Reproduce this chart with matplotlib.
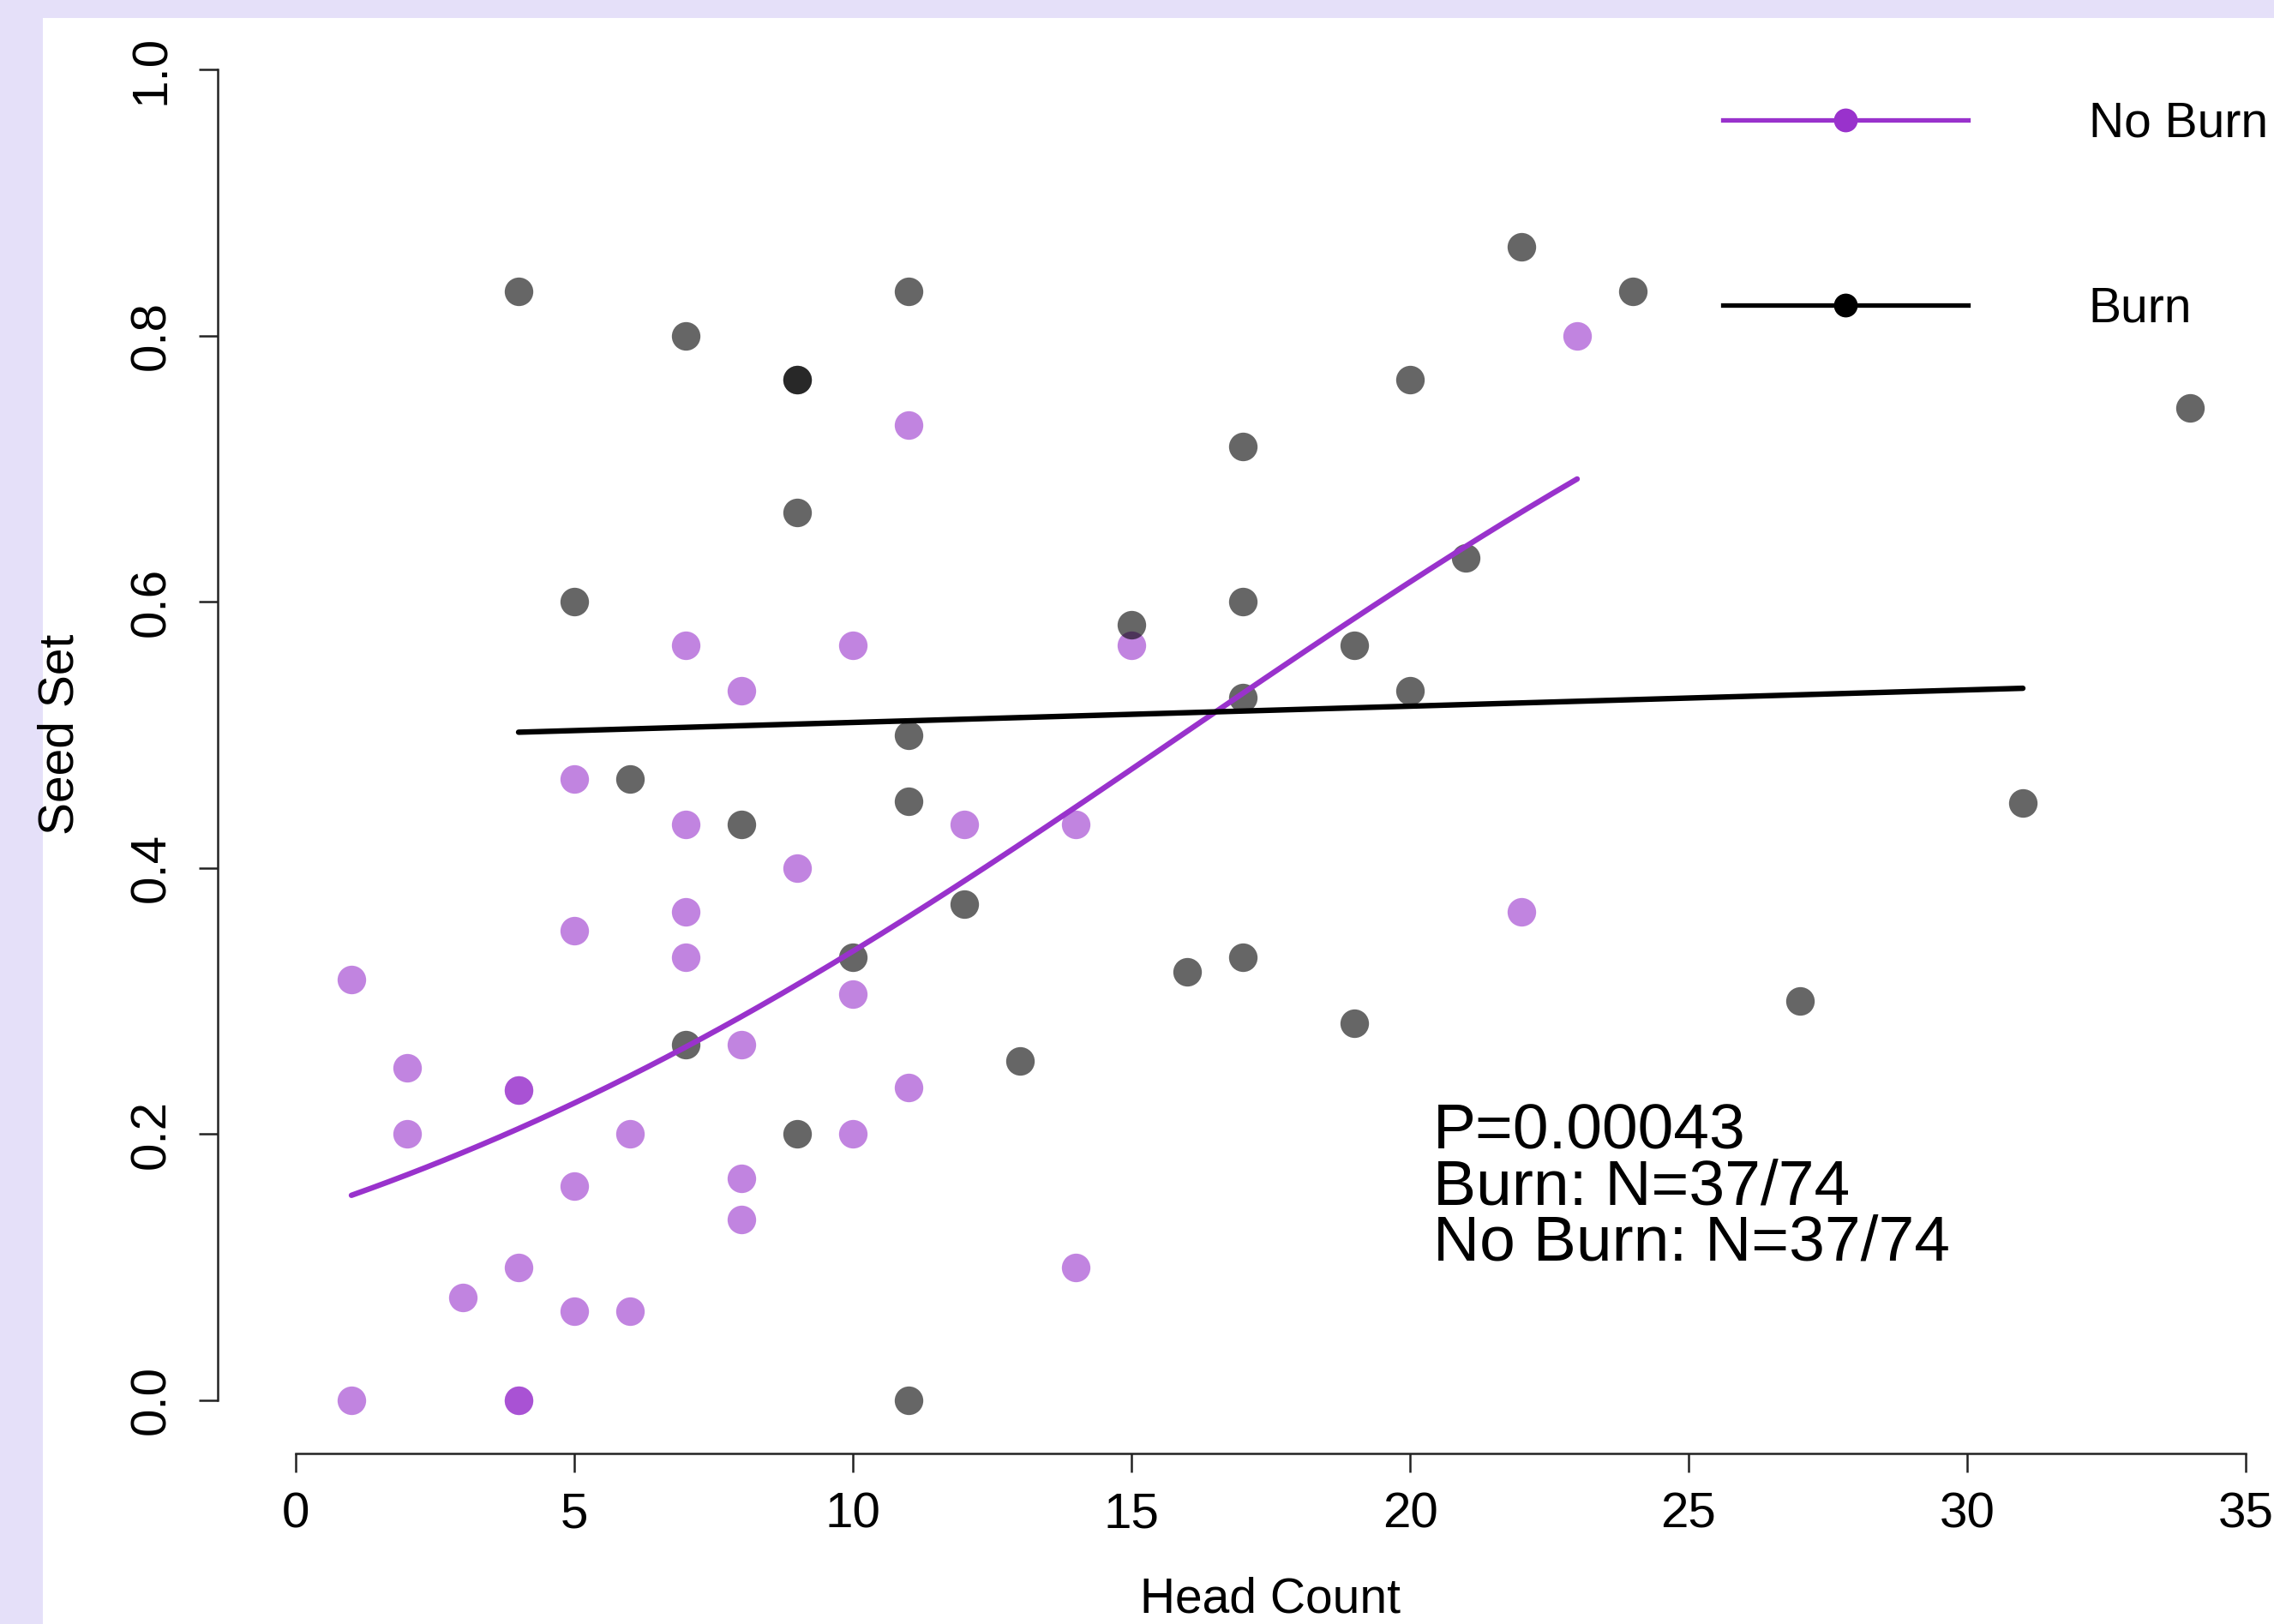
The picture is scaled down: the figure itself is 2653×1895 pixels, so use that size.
import numpy as np
import matplotlib
matplotlib.use("Agg")
import matplotlib.pyplot as plt
from matplotlib.patches import Rectangle
from matplotlib.lines import Line2D

plt.rcParams['font.family'] = ['Liberation Sans', 'DejaVu Sans']

# ---- data ----
noburn_x = [1, 1, 2, 2, 3, 4, 4, 4, 4, 4, 5, 5, 5, 5, 6, 6, 7, 7, 7, 7,
            8, 8, 8, 8, 9, 10, 10, 10, 11, 11, 12, 14, 14, 15, 22, 23]
noburn_y = [0.316, 0.0, 0.25, 0.20, 0.077, 0.233, 0.233, 0.0, 0.0, 0.10,
            0.467, 0.353, 0.161, 0.067, 0.20, 0.067, 0.567, 0.433, 0.367, 0.333,
            0.533, 0.267, 0.167, 0.136, 0.40, 0.567, 0.305, 0.20, 0.733, 0.235,
            0.433, 0.433, 0.10, 0.567, 0.367, 0.80]

burn_x = [4, 5, 6, 7, 7, 8, 9, 9, 9, 9, 10, 11, 11, 11, 11, 12, 13, 15, 16,
          17, 17, 17, 17, 19, 19, 20, 20, 21, 22, 24, 27, 31, 34]
burn_y = [0.833, 0.60, 0.467, 0.80, 0.267, 0.433, 0.767, 0.767, 0.667, 0.20,
          0.333, 0.833, 0.50, 0.45, 0.0, 0.373, 0.255, 0.583, 0.322,
          0.717, 0.60, 0.528, 0.333, 0.567, 0.283, 0.767, 0.533, 0.633, 0.867,
          0.833, 0.30, 0.449, 0.746]

# fitted logistic curves (intercept, slope, x-range)
noburn_fit = (-1.818, 0.1143)
noburn_range = (1, 23)
burn_fit = (-0.0116, 0.0049)
burn_range = (4, 31)

series_labels = ["No Burn", "Burn"]
x_ticks = [0, 5, 10, 15, 20, 25, 30, 35]
y_ticks = [0.0, 0.2, 0.4, 0.6, 0.8, 1.0]
annotation = "P=0.00043\nBurn: N=37/74\nNo Burn: N=37/74"

# ---- styling ----
W, H = 2653, 1895
purple = "#9932CC"
lavender = "#E5E0F9"

fig = plt.figure(figsize=(W / 100, H / 100), dpi=100)
fig.patch.set_facecolor(lavender)
fig.add_artist(Rectangle((50 / W, 0), 1, 1 - 21 / H, transform=fig.transFigure,
                         facecolor="white", edgecolor="none", zorder=0))

left_px, right_px, top_px, bot_px = 254, 2711, 19, 1696
ax = fig.add_axes([left_px / W, (H - bot_px) / H,
                   (right_px - left_px) / W, (bot_px - top_px) / H])
ax.patch.set_alpha(0)
ax.set_xlim(-1.4, 36.4)
ax.set_ylim(-0.04, 1.04)

ms = 24
ax.plot(noburn_x, noburn_y, 'o', color=purple, alpha=0.6, ms=ms, mew=0, zorder=2)
ax.plot(burn_x, burn_y, 'o', color='black', alpha=0.6, ms=ms, mew=0, zorder=2)

def logistic_curve(fit, rng):
    xs = np.linspace(rng[0], rng[1], 200)
    return xs, 1 / (1 + np.exp(-(fit[0] + fit[1] * xs)))

xs, ys = logistic_curve(noburn_fit, noburn_range)
ax.plot(xs, ys, color=purple, lw=4.6, solid_capstyle='round', zorder=3)
xs, ys = logistic_curve(burn_fit, burn_range)
ax.plot(xs, ys, color='black', lw=4.6, solid_capstyle='round', zorder=3)

for s in ['top', 'right']:
    ax.spines[s].set_visible(False)
ax.spines['left'].set_bounds(0, 1)
ax.spines['bottom'].set_bounds(0, 35)
for s in ['left', 'bottom']:
    ax.spines[s].set_linewidth(1.8)
    ax.spines[s].set_color('#222222')

ax.set_xticks(x_ticks)
ax.set_xticklabels([str(t) for t in x_ticks])
ax.set_yticks(y_ticks)
ax.set_yticklabels([f"{t:.1f}" for t in y_ticks], rotation=90, va='center')
ax.tick_params(axis='both', direction='out', length=16, width=1.8,
               color='#222222', labelsize=42)
ax.tick_params(axis='x', pad=16)
ax.tick_params(axis='y', pad=20)

fig.text(1482 / W, 1 - 1866 / H, "Head Count", fontsize=41, ha='center', va='center')
fig.text(71 / W, 1 - 857 / H, "Seed Set", fontsize=41, ha='center', va='center',
         rotation=90)

ax.text(20.42, 0.224, annotation, fontsize=54, ha='left', va='top',
        linespacing=0.93)

handles = [Line2D([], [], color=purple, lw=3.8, marker='o', ms=20, mew=0),
           Line2D([], [], color='black', lw=3.8, marker='o', ms=20, mew=0)]
ax.legend(handles, series_labels, loc='upper left',
          bbox_to_anchor=(2010 / W, 1 - 118 / H), bbox_transform=fig.transFigure,
          frameon=False, fontsize=41, handlelength=5.03, handletextpad=2.46,
          labelspacing=2.84, borderpad=0, borderaxespad=0)

fig.savefig("out.png", dpi=100, facecolor=fig.get_facecolor())
